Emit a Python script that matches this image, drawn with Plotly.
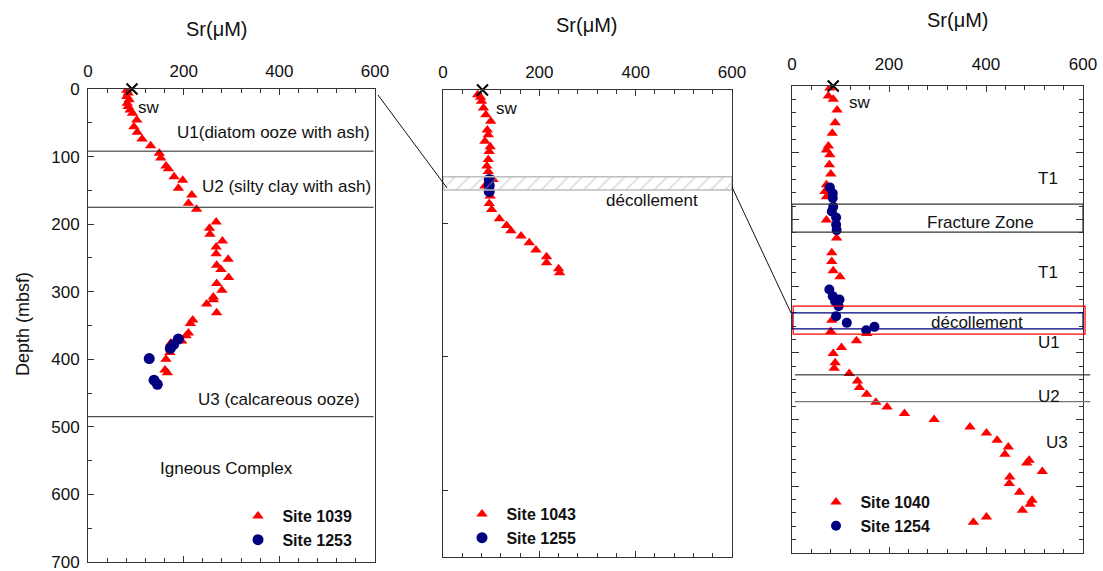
import plotly.graph_objects as go

W, H = 1103, 571
FONT = "Liberation Sans, Arial, sans-serif"
RED = "#ff0000"
NAVY = "#000080"
AX = "#333333"

# ---------------- data ----------------
# Panel 1: Site 1039 / Site 1253
s1039_sr = [81, 84, 81, 86, 82, 84, 88, 93, 102, 96, 103, 113, 131, 149, 152, 163, 168, 180, 198, 189,
            217, 210, 227, 268, 254, 255, 281, 268, 268, 293, 269, 278, 294, 269, 280, 262, 248, 262,
            269, 219, 214, 210, 205, 196, 173, 171, 163, 161, 166]
s1039_depth = [2, 6, 11, 16, 21, 26, 31, 36, 46, 56, 64, 74, 84, 95, 102, 114, 118, 130, 135, 147,
               157, 169, 178, 197, 206, 215, 225, 234, 244, 252, 261, 267, 279, 288, 298, 308, 318, 312,
               331, 342, 347, 361, 365, 373, 376, 390, 400, 416, 420]
s1253_sr = [189, 179, 172, 128, 138, 145]
s1253_depth = [370, 378, 384, 399, 431, 437]

# Panel 2: Site 1043 / Site 1255
s1043_sr = [72, 78, 80, 84, 89, 99, 92, 94, 87, 98, 96, 94, 91, 94, 104, 87, 98, 96, 101, 117,
            132, 141, 162, 179, 193, 215, 215, 240, 242]
s1043_depth = [7, 11, 17, 27, 37, 47, 60, 67, 77, 85, 92, 104, 114, 122, 134, 144, 159, 170, 179, 193,
               203, 211, 219, 229, 240, 250, 259, 268, 274]
s1255_sr = [96, 96, 96]
s1255_depth = [134, 143, 152]

# Panel 3: Site 1040 / Site 1254
s1040_sr = [78, 75, 85, 93, 89, 83, 75, 71, 78, 77, 80, 71, 68, 71, 71, 92, 82, 82, 85, 99,
            82, 80, 154, 133, 102, 85, 89, 87, 118, 135, 139, 154, 173, 196, 232, 293, 367, 401,
            423, 446, 439, 484, 489, 516, 449, 448, 469, 495, 491, 475, 401, 374]
s1040_depth = [3, 15, 20, 36, 55, 71, 90, 96, 103, 118, 132, 148, 158, 166, 201, 228, 250, 263, 277, 286,
               351, 368, 371, 382, 392, 401, 415, 423, 431, 442, 452, 462, 474, 481, 491, 500, 511, 520,
               531, 541, 552, 565, 561, 578, 586, 596, 609, 621, 627, 636, 646, 654]
s1254_sr = [78, 84, 84, 85, 82, 91, 91, 92, 77, 84, 98, 96, 89, 91, 113, 153, 170]
s1254_depth = [152, 161, 168, 181, 188, 197, 208, 216, 305, 315, 320, 330, 323, 345, 355, 366, 361]

# seawater values (x marker at depth 0)
sw_sr = [92, 82, 85]

# unit boundaries / zones (depth, mbsf)
p1_unit_bounds = [92, 175, 485]
p2_decollement = [130, 150]
p3_fracture_zone = [177, 219]
p3_decollement_red = [330, 372]
p3_decollement_blue = [340, 364]
p3_unit_bounds = [433, 473]

x_ticks = [0, 200, 400, 600]
depth_ticks = [0, 100, 200, 300, 400, 500, 600, 700]

# ---------------- layout helpers ----------------
def px2x(p):
    return p / W

def px2y(p):
    return 1 - p / H

panels = {
    1: dict(x=(88, 375), y=(89, 562)),
    2: dict(x=(443, 732), y=(90, 557)),
    3: dict(x=(792, 1083), y=(86, 553)),
}

fig = go.Figure()

def ax_names(i):
    s = "" if i == 1 else str(i)
    return f"x{s}", f"y{s}"

def tri_trace(x, y, name, i, legend):
    xa, ya = ax_names(i)
    return go.Scatter(x=x, y=y, mode="markers", name=name, xaxis=xa, yaxis=ya, legend=legend,
                      marker=dict(symbol="triangle-up", size=10, color=RED, line=dict(width=0)))

def circ_trace(x, y, name, i, legend, size=10):
    xa, ya = ax_names(i)
    return go.Scatter(x=x, y=y, mode="markers", name=name, xaxis=xa, yaxis=ya, legend=legend,
                      marker=dict(symbol="circle", size=size, color=NAVY, line=dict(width=0)))

def sw_trace(v, i):
    xa, ya = ax_names(i)
    return go.Scatter(x=[v], y=[0], mode="markers", showlegend=False, cliponaxis=False,
                      xaxis=xa, yaxis=ya,
                      marker=dict(symbol="x-thin", size=11, color="black", line=dict(width=2, color="black")))

# panel 1
fig.add_trace(tri_trace(s1039_sr, s1039_depth, "&nbsp;Site 1039", 1, "legend"))
fig.add_trace(circ_trace(s1253_sr, s1253_depth, "&nbsp;Site 1253", 1, "legend", 11))
fig.add_trace(sw_trace(sw_sr[0], 1))

# panel 2
fig.add_trace(tri_trace(s1043_sr, s1043_depth, "&nbsp;Site 1043", 2, "legend2"))
fig.add_trace(circ_trace(s1255_sr, s1255_depth, "&nbsp;Site 1255", 2, "legend2", 11))
fig.add_trace(sw_trace(sw_sr[1], 2))
d0, d1 = p2_decollement
fig.add_trace(go.Scatter(x=[0, 600, 600, 0, 0], y=[d0, d0, d1, d1, d0], xaxis="x2", yaxis="y2",
                         mode="lines", fill="toself", showlegend=False,
                         line=dict(color="#bdbdbd", width=1.5),
                         fillcolor="rgba(0,0,0,0)",
                         fillpattern=dict(shape="/", fgcolor="#b0b0b0", bgcolor="rgba(255,255,255,0)",
                                          size=10, solidity=0.15)))

# panel 3
fig.add_trace(tri_trace(s1040_sr, s1040_depth, "&nbsp;Site 1040", 3, "legend3"))
fig.add_trace(circ_trace(s1254_sr, s1254_depth, "&nbsp;Site 1254", 3, "legend3", 10))
fig.add_trace(sw_trace(sw_sr[2], 3))

# ---------------- axes ----------------
for i, p in panels.items():
    sx = "" if i == 1 else str(i)
    xa = dict(domain=[px2x(p["x"][0]), px2x(p["x"][1])], range=[0, 600], side="top",
              anchor=f"y{sx}", tickmode="array", tickvals=x_ticks, ticks="inside", ticklen=6,
              tickcolor=AX, showline=True, linecolor=AX, linewidth=1, mirror="ticks",
              showgrid=False, zeroline=False, automargin=False, ticklabeloverflow="allow",
              tickfont=dict(family=FONT, size=17, color="#111"),
              minor=dict(tickmode="linear", tick0=0, dtick=40, ticks="inside", ticklen=4, tickcolor=AX))
    ya = dict(domain=[px2y(p["y"][1]), px2y(p["y"][0])], range=[700, 0], anchor=f"x{sx}",
              showline=True, linecolor=AX, linewidth=1, showgrid=False, zeroline=False,
              tickcolor=AX, automargin=False, ticklabeloverflow="allow")
    if i == 1:
        xa["ticklabelstandoff"] = 4
        ya.update(tickmode="array", tickvals=depth_ticks, ticks="inside", ticklen=6, mirror=True,
                  tickfont=dict(family=FONT, size=17, color="#111"), ticklabelstandoff=4,
                  minor=dict(tickmode="linear", tick0=0, dtick=50, ticks="inside", ticklen=4, tickcolor=AX))
    elif i == 2:
        xa["ticklabelstandoff"] = 4
        ya.update(tickmode="array", tickvals=[200, 400, 600], ticks="inside", ticklen=5, mirror=True,
                  showticklabels=False)
    else:
        xa["ticklabelstandoff"] = 8
        ya.update(tickmode="linear", tick0=0, dtick=100, ticks="inside", ticklen=7, mirror="ticks",
                  showticklabels=False,
                  minor=dict(tickmode="linear", tick0=0, dtick=20, ticks="inside", ticklen=4, tickcolor=AX))
    fig.update_layout({f"xaxis{sx}": xa, f"yaxis{sx}": ya})

# ---------------- shapes ----------------
shapes = []
for d in p1_unit_bounds:
    shapes.append(dict(type="line", xref="x domain", yref="y", x0=0, x1=0.995, y0=d, y1=d,
                       line=dict(color="#222", width=1)))
fz0, fz1 = p3_fracture_zone
shapes.append(dict(type="rect", xref="x3", yref="y3", x0=0, x1=600, y0=fz0, y1=fz1,
                   line=dict(color="#333", width=1.2)))
r0, r1 = p3_decollement_red
shapes.append(dict(type="rect", xref="x3 domain", yref="y3", x0=0.004, x1=1.007, y0=r0, y1=r1,
                   line=dict(color=RED, width=1.2)))
b0, b1 = p3_decollement_blue
shapes.append(dict(type="rect", xref="x3", yref="y3", x0=0, x1=600, y0=b0, y1=b1,
                   line=dict(color=NAVY, width=1.2)))
shapes.append(dict(type="line", xref="x3 domain", yref="y3", x0=0.01, x1=1.025,
                   y0=p3_unit_bounds[0], y1=p3_unit_bounds[0], line=dict(color="#111", width=1)))
shapes.append(dict(type="line", xref="x3 domain", yref="y3", x0=0.01, x1=1.025,
                   y0=p3_unit_bounds[1], y1=p3_unit_bounds[1], line=dict(color="#777", width=1.2)))
# connector lines between panels
shapes.append(dict(type="line", xref="paper", yref="paper", x0=px2x(378), y0=px2y(95),
                   x1=px2x(447), y1=px2y(188), line=dict(color="#111", width=1)))
shapes.append(dict(type="line", xref="paper", yref="paper", x0=px2x(732), y0=px2y(187),
                   x1=px2x(791), y1=px2y(313), line=dict(color="#111", width=1)))
fig.update_layout(shapes=shapes)

# ---------------- annotations ----------------
ann_font = dict(family=FONT, size=17, color="#111")
notes = [
    ("sw", 1, 100, 28, "left"),
    ("U1(diatom ooze with ash)", 1, 387, 65, "center"),
    ("U2 (silty clay with ash)", 1, 416, 145, "center"),
    ("U3 (calcareous ooze)", 1, 400, 459, "center"),
    ("Igneous Complex", 1, 290, 561, "center"),
    ("sw", 2, 106, 27, "left"),
    ("d\u00e9collement", 2, 434, 165, "center"),
    ("sw", 3, 113, 25, "left"),
    ("T1", 3, 528, 138, "center"),
    ("Fracture Zone", 3, 388, 204, "center"),
    ("T1", 3, 528, 280, "center"),
    ("d\u00e9collement", 3, 381, 355, "center"),
    ("U1", 3, 530, 385, "center"),
    ("U2", 3, 530, 466, "center"),
    ("U3", 3, 546, 535, "center"),
]
anns = []
for text, i, x, y, anchor in notes:
    xa, ya = ax_names(i)
    anns.append(dict(text=text, x=x, y=y, xref=xa, yref=ya, showarrow=False,
                     xanchor=anchor, yanchor="middle", font=ann_font))

# axis titles (placed in paper coordinates)
title_font = dict(family=FONT, size=20, color="#111")
for cx, cy in [(217, 29), (587, 25), (958, 20)]:
    anns.append(dict(text="Sr(\u03bcM)", x=px2x(cx), y=px2y(cy), xref="paper", yref="paper",
                     showarrow=False, xanchor="center", yanchor="middle", font=title_font))
anns.append(dict(text="Depth (mbsf)", x=px2x(23), y=px2y(324), xref="paper", yref="paper",
                 showarrow=False, xanchor="center", yanchor="middle", textangle=-90,
                 font=dict(family=FONT, size=18, color="#111")))
fig.update_layout(annotations=anns)

# ---------------- legends ----------------
leg_font = dict(family=FONT, size=16, color="#111", weight="bold")
def leg(xpx, ypx):
    return dict(x=px2x(xpx), y=px2y(ypx), xanchor="left", yanchor="top", bgcolor="rgba(0,0,0,0)",
                font=leg_font, itemclick=False, tracegroupgap=0, borderwidth=0)

fig.update_layout(
    width=W, height=H, margin=dict(l=0, r=0, t=0, b=0, autoexpand=False),
    paper_bgcolor="white", plot_bgcolor="white",
    showlegend=True,
    legend=leg(238, 499),
    legend2=leg(462, 497),
    legend3=leg(816, 485),
)

fig.write_html("out.html")
